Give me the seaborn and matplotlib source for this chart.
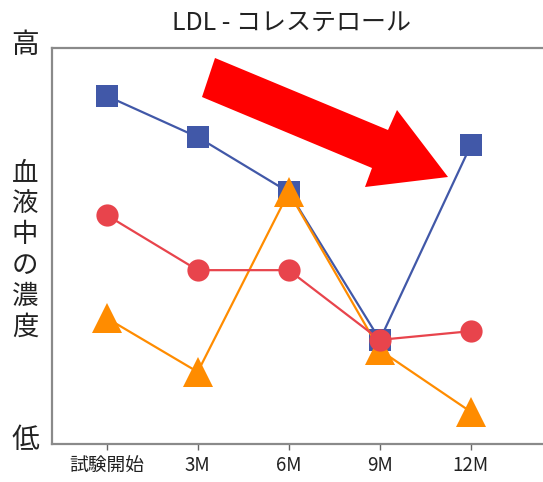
import numpy as np
import pandas as pd
import matplotlib
matplotlib.use("Agg")
import matplotlib.pyplot as plt
import seaborn as sns
from matplotlib.patches import Polygon

# Data (relative blood level, 0 = low, 100 = high)
timepoints = ["試験開始", "3M", "6M", "9M", "12M"]
blue_values = [87.9, 77.5, 63.6, 26.3, 75.5]
orange_values = [31.8, 18.2, 63.6, 23.7, 8.1]
red_values = [57.8, 43.9, 43.9, 26.3, 28.5]

sns.set_theme(style="white")
plt.rcParams["font.family"] = ["Noto Sans CJK JP", "DejaVu Sans"]

fig = plt.figure(figsize=(5.43, 4.82), dpi=100)
ax = fig.add_axes([52 / 543, 38 / 482, 510 / 543, 396 / 482])

x = np.arange(len(timepoints))
series = [
    ("blue", blue_values, "#4158A8", "s", 16),
    ("orange", orange_values, "#FF8C00", "^", 21),
    ("red", red_values, "#E8444C", "o", 16),
]
for name, vals, color, marker, ms in series:
    df = pd.DataFrame({"x": x, "y": vals})
    sns.lineplot(data=df, x="x", y="y", ax=ax, color=color, marker=marker,
                 markersize=ms, markeredgewidth=0, linewidth=1.6)

ax.set_xlim(-0.6, 5.0)
ax.set_ylim(0, 100)
ax.set_xticks(x)
ax.set_xticklabels(timepoints, fontsize=13.5, color="#222222")
ax.set_yticks([])
ax.set_xlabel("")
ax.set_ylabel("")
ax.tick_params(axis="x", length=4, width=1, color="#666666", direction="out",
               bottom=True, pad=4)
for sp in ax.spines.values():
    sp.set_color("#8a8a8a")
    sp.set_linewidth(1.6)
ax.spines["right"].set_visible(False)

# big red trend arrow
W, H = 543, 482
arrow_px = [(215, 58), (388, 130), (397, 110), (448, 177),
            (365, 187), (372, 168), (202, 97)]
arrow = Polygon([(px / W, 1 - py / H) for px, py in arrow_px], closed=True,
                facecolor="#FF0000", edgecolor="none",
                transform=fig.transFigure, zorder=5)
fig.patches.append(arrow)

fig.text(292 / W, 1 - 24 / H, "LDL - コレステロール", ha="center", va="center",
         fontsize=18, color="#222222")
fig.text(25 / W, 1 - 45 / H, "高", ha="center", va="center", fontsize=20,
         color="#222222")
fig.text(25 / W, 1 - 440 / H, "低", ha="center", va="center", fontsize=20,
         color="#222222")
fig.text(25 / W, 1 - 250 / H, "\n".join("血液中の濃度"), ha="center",
         va="center", fontsize=19, linespacing=1.18, color="#222222")

fig.savefig("out.png", dpi=100)
